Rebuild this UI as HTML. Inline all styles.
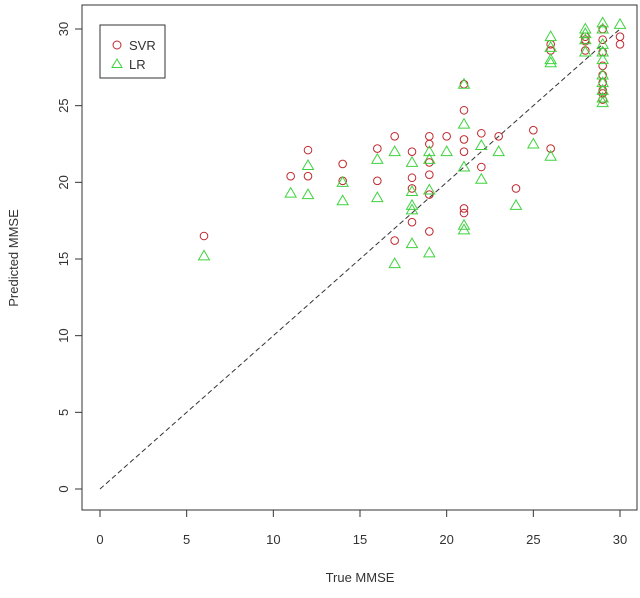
<!DOCTYPE html>
<html><head><meta charset="utf-8"><style>
body{margin:0;background:#fff}
text{font-family:"Liberation Sans",sans-serif;fill:#333;font-size:13px}
</style></head><body>
<svg id="chart" width="640" height="593" xmlns="http://www.w3.org/2000/svg">
<rect x="82" y="5" width="555" height="505" fill="none" stroke="#333" stroke-width="1"/>
<line id="diag" stroke="#333" stroke-dasharray="5,3" stroke-width="1"/>
<g id="axes"></g>
<g id="marks"></g>
<g>
<rect x="100" y="25" width="65" height="53" fill="#fff" stroke="#333"/>
<circle cx="117" cy="45" r="4" fill="none" stroke="#c0282d"/>
<text x="129" y="50">SVR</text>
<polygon points="117,59 122,67.5 112,67.5" fill="none" stroke="#3ed33e"/>
<text x="129" y="69">LR</text>
</g>
<text x="360" y="582" text-anchor="middle">True MMSE</text>
<text transform="translate(18,258) rotate(-90)" text-anchor="middle">Predicted MMSE</text>
</svg>
<script>
const xTicks=[0,5,10,15,20,25,30];
const yTicks=[0,5,10,15,20,25,30];
const svrX=[6,11,12,12,14,14,16,16,17,17,18,18,18,18,19,19,19,19,19,19,20,21,21,21,21,21,21,22,22,23,24,25,26,26,26,28,28,28,28,29,29,29,29,29,29,29,29,29,30,30];
const svrY=[16.5,20.4,22.1,20.4,21.2,20.1,22.2,20.1,23,16.2,22,20.3,19.6,17.4,23,22.5,21.3,20.5,19.2,16.8,23,26.4,24.7,22.8,22,18.3,18,23.2,21,23,19.6,23.4,22.2,29,28.6,29.5,29.3,29.2,28.6,30,29.3,28.5,27.6,27,26.5,26,25.8,25.4,29.5,29];
const lrX=[6,11,12,12,14,14,16,16,17,17,18,18,18,18,18,19,19,19,19,20,21,21,21,21,21,22,22,23,24,25,26,26,26,26,26,28,28,28,28,29,29,29,29,29,29,29,29,29,29,30];
const lrY=[15.2,19.3,21.1,19.2,20,18.8,21.5,19,22,14.7,21.3,18.5,18.2,16,19.4,22,21.5,19.5,15.4,22,26.4,23.8,21,17.2,16.9,22.4,20.2,22,18.5,22.5,21.7,29.5,28.8,28,27.8,30,29.7,29.3,28.5,30.4,30,29,28.5,28,27,26.5,26,25.5,25.2,30.3];
const sx=v=>100+v*520/30, sy=v=>489-v*460/30;
const NS="http://www.w3.org/2000/svg";
const axes=document.getElementById('axes'), marks=document.getElementById('marks');
function mk(t,a,p){const e=document.createElementNS(NS,t);for(const k in a)e.setAttribute(k,a[k]);p.appendChild(e);return e;}
const d=document.getElementById('diag');
d.setAttribute('x1',sx(0));d.setAttribute('y1',sy(0));d.setAttribute('x2',sx(30));d.setAttribute('y2',sy(30));
mk('line',{x1:sx(0),x2:sx(30),y1:510,y2:510,stroke:'#333'},axes);
xTicks.forEach(v=>{
 const l=mk('line',{x1:sx(v),x2:sx(v),y1:510,y2:517,stroke:'#333'},axes);
 
 
 const t=mk('text',{x:sx(v),y:544,'text-anchor':'middle'},axes);t.textContent=v;
 
 
});
yTicks.forEach(v=>{
 const l=mk('line',{x1:75,x2:82,y1:sy(v),y2:sy(v),stroke:'#333'},axes);
 
 
 const t=mk('text',{transform:`translate(68,${sy(v)}) rotate(-90)`,'text-anchor':'middle'},axes);t.textContent=v;
 
 
});
svrX.forEach((x,i)=>{
 const c=mk('circle',{cx:sx(x),cy:sy(svrY[i]),r:3.8,fill:'none',stroke:'#c0282d'},marks);
 
 
});
lrX.forEach((x,i)=>{
 const X=sx(x),Y=sy(lrY[i]);
 const p=mk('polygon',{points:`${X},${Y-5.5} ${X+5.5},${Y+4} ${X-5.5},${Y+4}`,fill:'none',stroke:'#3ed33e'},marks);
 
 
});
</script>
</body></html>
